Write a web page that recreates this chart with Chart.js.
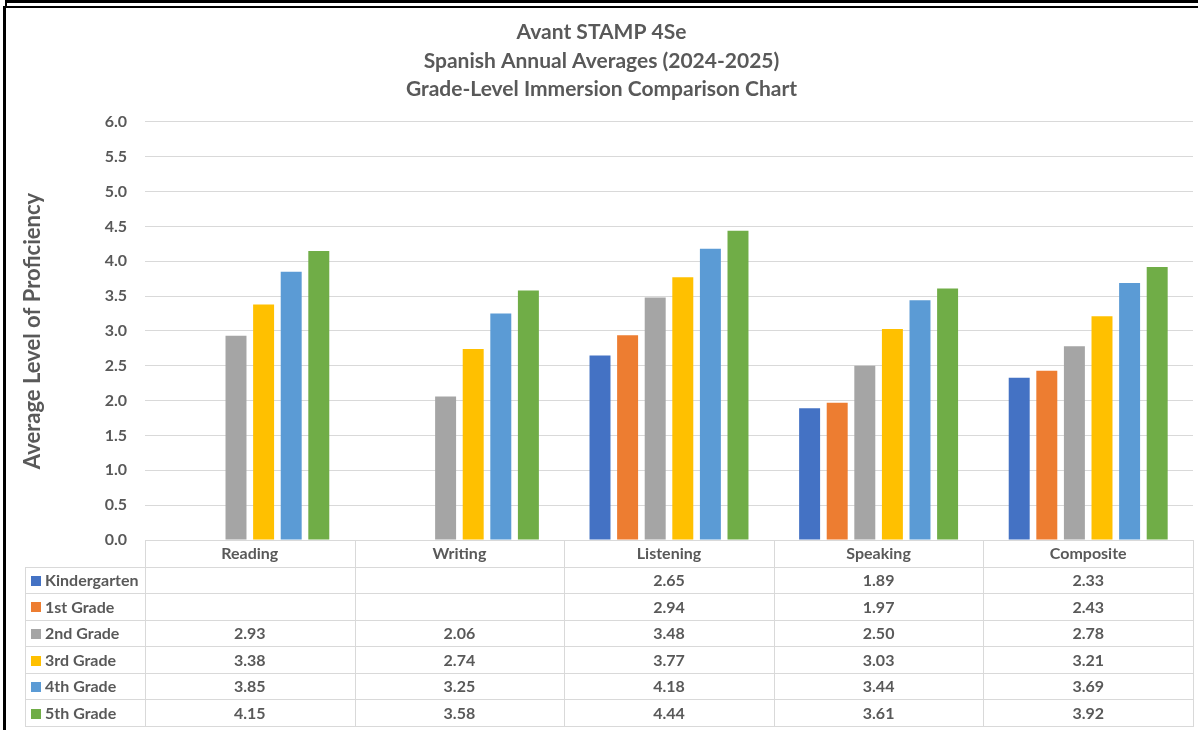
<!DOCTYPE html>
<html>
<head>
<meta charset="utf-8">
<script src="https://cdn.jsdelivr.net/npm/chart.js@4.4.1/dist/chart.umd.min.js"></script>
<style>
  html, body { margin: 0; padding: 0; background: #ffffff; }
  #wrap { width: 1198px; height: 730px; position: relative; }
</style>
</head>
<body>
<div id="wrap"><canvas id="c" width="1198" height="730"></canvas></div>
<script>
const categories = ["Reading", "Writing", "Listening", "Speaking", "Composite"];
const seriesNames = ["Kindergarten", "1st Grade", "2nd Grade", "3rd Grade", "4th Grade", "5th Grade"];
const kindergarten = [null, null, 2.65, 1.89, 2.33];
const grade1 = [null, null, 2.94, 1.97, 2.43];
const grade2 = [2.93, 2.06, 3.48, 2.50, 2.78];
const grade3 = [3.38, 2.74, 3.77, 3.03, 3.21];
const grade4 = [3.85, 3.25, 4.18, 3.44, 3.69];
const grade5 = [4.15, 3.58, 4.44, 3.61, 3.92];
const colors = ["#4472C4", "#ED7D31", "#A5A5A5", "#FFC000", "#5B9BD5", "#70AD47"];
const titleLines = ["Avant STAMP 4Se", "Spanish Annual Averages (2024-2025)", "Grade-Level Immersion Comparison Chart"];
const yAxisTitle = "Average Level of Proficiency";

const allSeries = [kindergarten, grade1, grade2, grade3, grade4, grade5];
const FONT = "Lato, 'Open Sans', sans-serif";
const TXT = "#595959";
const GRID = "#D9D9D9";

const tablePlugin = {
  id: 'dataTable',
  afterDraw(chart) {
    const ctx = chart.ctx;
    const area = chart.chartArea;
    const xs = chart.scales.x;
    const n = chart.data.labels.length;
    const colW = (area.right - area.left) / n;
    const top = area.bottom;
    const rowH = 26.57;
    const nRows = chart.data.datasets.length;
    const bottom = top + rowH * (nRows + 1);
    const tableLeft = 25;
    ctx.save();
    ctx.strokeStyle = GRID;
    ctx.lineWidth = 1;
    ctx.beginPath();
    ctx.moveTo(area.left, Math.round(top) + 0.5);
    ctx.lineTo(area.right, Math.round(top) + 0.5);
    for (let r = 1; r <= nRows + 1; r++) {
      const y = Math.round(top + r * rowH) + 0.5;
      ctx.moveTo(tableLeft, y);
      ctx.lineTo(area.right, y);
    }
    ctx.moveTo(tableLeft + 0.5, Math.round(top + rowH));
    ctx.lineTo(tableLeft + 0.5, Math.round(bottom) + 1);
    for (let i = 0; i <= n; i++) {
      const x = Math.round(area.left + i * colW) + 0.5;
      ctx.moveTo(x, Math.round(top));
      ctx.lineTo(x, Math.round(bottom) + 1);
    }
    ctx.stroke();

    ctx.fillStyle = TXT;
    ctx.font = "bold 16px " + FONT;
    ctx.textBaseline = 'middle';
    ctx.textAlign = 'center';
    chart.data.labels.forEach((lab, i) => {
      ctx.fillText(lab, xs.getPixelForValue(i), top + rowH / 2 + 1);
    });
    chart.data.datasets.forEach((ds, r) => {
      const cy = top + (r + 1) * rowH + rowH / 2 + 1;
      ctx.fillStyle = ds.backgroundColor;
      ctx.fillRect(31, Math.round(cy - 5), 10, 10);
      ctx.fillStyle = TXT;
      ctx.textAlign = 'left';
      ctx.fillText(ds.label, 45, cy);
      ctx.textAlign = 'center';
      ds.data.forEach((v, i) => {
        if (v !== null && v !== undefined) {
          ctx.fillText(v.toFixed(2), xs.getPixelForValue(i), cy);
        }
      });
    });

    ctx.fillStyle = "#000000";
    ctx.fillRect(5, 0, 1193, 3);
    ctx.fillRect(3, 6, 1195, 2);
    ctx.fillRect(3, 6, 3, 724);
    ctx.fillRect(5, 0, 2, 6);
    ctx.restore();
  }
};

new Chart(document.getElementById('c'), {
  type: 'bar',
  data: {
    labels: categories,
    datasets: seriesNames.map((name, i) => ({
      label: name,
      data: allSeries[i],
      backgroundColor: colors[i],
      borderWidth: 0,
      categoryPercentage: 0.79,
      barPercentage: 0.76
    }))
  },
  options: {
    responsive: false,
    animation: false,
    layout: { padding: { left: 10, right: 5, top: 8, bottom: 190 } },
    plugins: {
      legend: { display: false },
      tooltip: { enabled: false },
      title: {
        display: true,
        text: titleLines,
        color: TXT,
        font: { family: FONT, size: 21, weight: 'bold', lineHeight: 1.357 },
        padding: { top: 10, bottom: 18.5 }
      }
    },
    scales: {
      x: {
        display: false,
        offset: true
      },
      y: {
        min: 0,
        max: 6,
        border: { display: false },
        grid: { color: GRID, lineWidth: 1, drawTicks: false },
        ticks: {
          stepSize: 0.5,
          padding: 18,
          color: TXT,
          font: { family: FONT, size: 16, weight: 'bold' },
          callback: (v) => Number(v).toFixed(1)
        },
        title: {
          display: true,
          text: yAxisTitle,
          color: TXT,
          font: { family: FONT, size: 22, weight: 'bold', lineHeight: 1.2 },
          padding: { top: 10, bottom: 0 }
        },
        afterFit: (s) => { s.width = 135; }
      }
    }
  },
  plugins: [tablePlugin]
});
</script>
</body>
</html>
